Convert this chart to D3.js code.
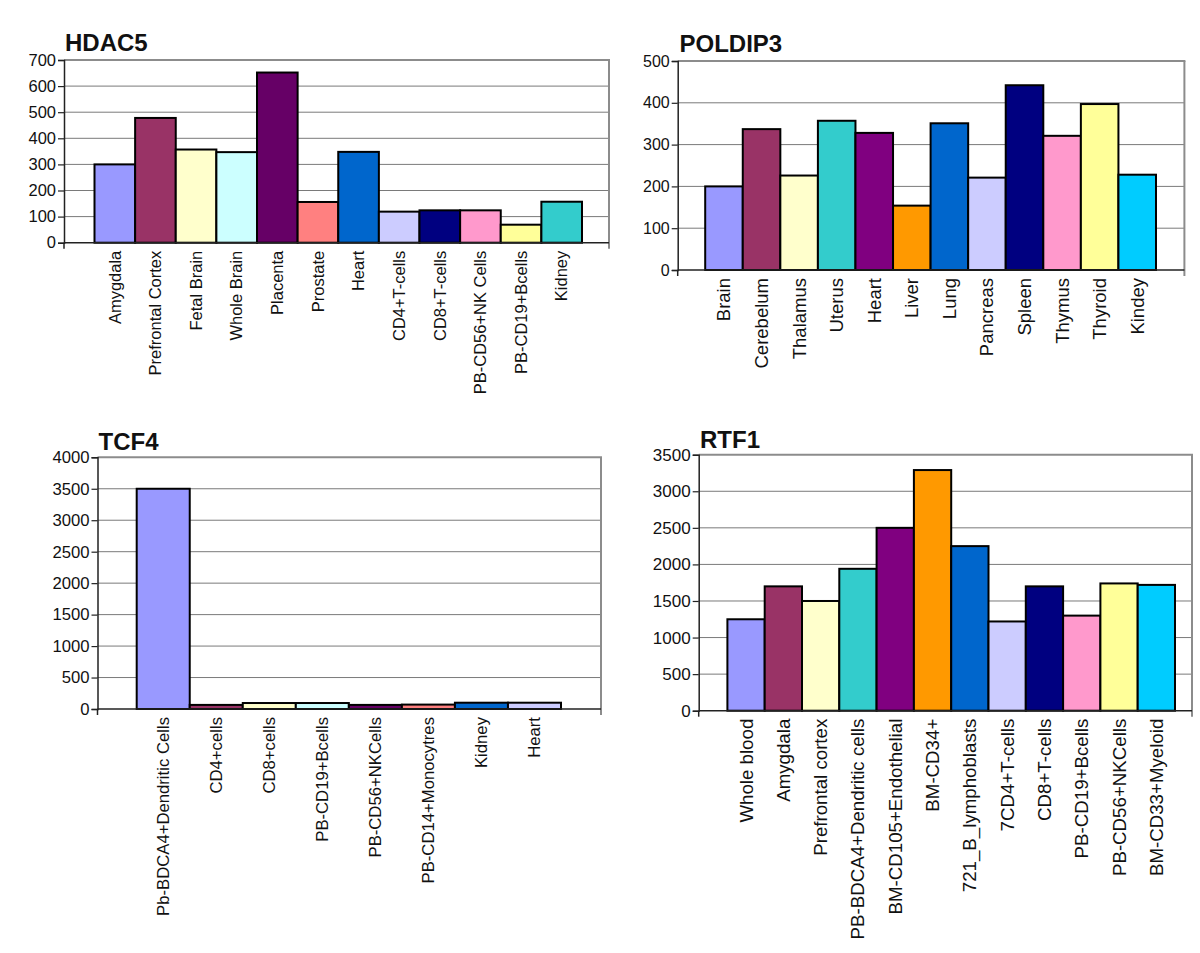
<!DOCTYPE html>
<html><head><meta charset="utf-8">
<script src="https://cdn.jsdelivr.net/npm/d3@7"></script>
<style>
body{margin:0;background:#fff}
svg{display:block}
text{font-family:"Liberation Sans",Arial,sans-serif;fill:#111}
</style>
</head><body>
<svg id="c" width="1200" height="953"></svg>
<script>
// ---------- DATA ----------
const hdac5Categories = ["Amygdala","Prefrontal Cortex","Fetal Brain","Whole Brain","Placenta","Prostate","Heart","CD4+T-cells","CD8+T-cells","PB-CD56+NK Cells","PB-CD19+Bcells","Kidney"];
const hdac5Values = [300,478,357,347,652,156,348,119,124,124,69,157];
const hdac5Colors = ["#9999FF","#993366","#FFFFCC","#CCFFFF","#660066","#FF8080","#0066CC","#CCCCFF","#000080","#FF99CC","#FFFF99","#33CCCC"];
const hdac5Ticks = [0,100,200,300,400,500,600,700];

const poldip3Categories = ["Brain","Cerebelum","Thalamus","Uterus","Heart","Liver","Lung","Pancreas","Spleen","Thymus","Thyroid","Kindey"];
const poldip3Values = [200,337,226,357,328,154,351,221,442,321,397,228];
const poldip3Colors = ["#9999FF","#993366","#FFFFCC","#33CCCC","#800080","#FF9900","#0066CC","#CCCCFF","#000080","#FF99CC","#FFFF99","#00CCFF"];
const poldip3Ticks = [0,100,200,300,400,500];

const tcf4Categories = ["Pb-BDCA4+Dendritic Cells","CD4+cells","CD8+cells","PB-CD19+Bcells","PB-CD56+NKCells","PB-CD14+Monocytres","Kidney","Heart"];
const tcf4Values = [3500,65,95,95,65,70,100,100];
const tcf4Colors = ["#9999FF","#993366","#FFFFCC","#CCFFFF","#660066","#FF8080","#0066CC","#CCCCFF"];
const tcf4Ticks = [0,500,1000,1500,2000,2500,3000,3500,4000];

const rtf1Categories = ["Whole blood","Amygdala","Prefrontal cortex","PB-BDCA4+Dendritic cells","BM-CD105+Endothelial","BM-CD34+","721_B_lymphoblasts","7CD4+T-cells","CD8+T-cells","PB-CD19+Bcells","PB-CD56+NKCells","BM-CD33+Myeloid"];
const rtf1Values = [1250,1700,1500,1940,2500,3290,2250,1220,1700,1300,1740,1720];
const rtf1Colors = ["#9999FF","#993366","#FFFFCC","#33CCCC","#800080","#FF9900","#0066CC","#CCCCFF","#000080","#FF99CC","#FFFF99","#00CCFF"];
const rtf1Ticks = [0,500,1000,1500,2000,2500,3000,3500];

// ---------- LAYOUT ----------
const panels = [
  {title:"HDAC5", cats:hdac5Categories, vals:hdac5Values, colors:hdac5Colors, ticks:hdac5Ticks,
   left:64, right:609, top:60, bottom:242.7, bars:[94.5,582], titleX:65, titleY:50.5, tickFont:16.5, labelFont:16.5},
  {title:"POLDIP3", cats:poldip3Categories, vals:poldip3Values, colors:poldip3Colors, ticks:poldip3Ticks,
   left:677.7, right:1184.4, top:61, bottom:270, bars:[705.2,1156], titleX:679.5, titleY:51.5, tickFont:16, labelFont:18.5},
  {title:"TCF4", cats:tcf4Categories, vals:tcf4Values, colors:tcf4Colors, ticks:tcf4Ticks,
   left:97.5, right:601, top:457.3, bottom:709, bars:[136.7,561], titleX:98.5, titleY:450, tickFont:16.7, labelFont:16.7},
  {title:"RTF1", cats:rtf1Categories, vals:rtf1Values, colors:rtf1Colors, ticks:rtf1Ticks,
   left:698.7, right:1192, top:454.7, bottom:710.7, bars:[727.4,1175], titleX:700, titleY:448.3, tickFont:17, labelFont:18.7}
];

const svg = d3.select("#c");

panels.forEach(p => {
  const g = svg.append("g");
  const yMax = p.ticks[p.ticks.length-1];
  const x = d3.scaleBand().domain(p.cats).range(p.bars).paddingInner(0).paddingOuter(0);
  const y = d3.scaleLinear().domain([0, yMax]).range([p.bottom, p.top]);

  // gridlines
  g.selectAll("line.grid").data(p.ticks.filter(t => t > 0 && t < yMax)).join("line")
    .attr("class","grid")
    .attr("x1", p.left).attr("x2", p.right)
    .attr("y1", d => y(d)).attr("y2", d => y(d))
    .attr("stroke","#7a7a7a").attr("stroke-width",1);

  // frame top & right
  g.append("line").attr("x1",p.left).attr("x2",p.right+1).attr("y1",y(yMax)).attr("y2",y(yMax))
    .attr("stroke","#8c8c8c").attr("stroke-width",2);
  g.append("line").attr("x1",p.right).attr("x2",p.right).attr("y1",y(yMax)).attr("y2",p.bottom+6)
    .attr("stroke","#8c8c8c").attr("stroke-width",2);

  // bars
  g.selectAll("rect.bar").data(p.cats.map((c,i)=>({c, v:p.vals[i], col:p.colors[i]}))).join("rect")
    .attr("class","bar")
    .attr("x", d => x(d.c)).attr("width", x.bandwidth())
    .attr("y", d => y(d.v)).attr("height", d => p.bottom - y(d.v))
    .attr("fill", d => d.col).attr("stroke","#000").attr("stroke-width",2);

  // x axis line
  g.append("line").attr("x1",p.left).attr("x2",p.right).attr("y1",p.bottom).attr("y2",p.bottom)
    .attr("stroke","#222").attr("stroke-width",1.5);
  g.append("line").attr("x1",p.left).attr("x2",p.left).attr("y1",p.bottom).attr("y2",p.bottom+6)
    .attr("stroke","#222").attr("stroke-width",1.5);

  // y axis
  const ya = g.append("g").attr("transform",`translate(${p.left},0)`)
    .call(d3.axisLeft(y).tickValues(p.ticks).tickSize(6).tickPadding(2).tickFormat(d3.format("d")));
  ya.select(".domain").attr("stroke","#222").attr("stroke-width",1.5);
  ya.selectAll(".tick line").attr("stroke","#222").attr("stroke-width",1.2);
  ya.selectAll(".tick text").attr("font-size",p.tickFont).attr("font-family","Liberation Sans, Arial, sans-serif").attr("fill","#111");

  // category labels
  g.selectAll("text.lab").data(p.cats).join("text")
    .attr("class","lab")
    .attr("transform", d => `translate(${x(d)+x.bandwidth()/2},${p.bottom+8}) rotate(-90)`)
    .attr("text-anchor","end").attr("dy","0.35em")
    .attr("font-size",p.labelFont)
    .text(d => d);

  // title
  g.append("text").attr("x",p.titleX).attr("y",p.titleY)
    .attr("font-size",24).attr("font-weight","bold").attr("fill","#000")
    .text(p.title);
});
</script>
</body></html>
